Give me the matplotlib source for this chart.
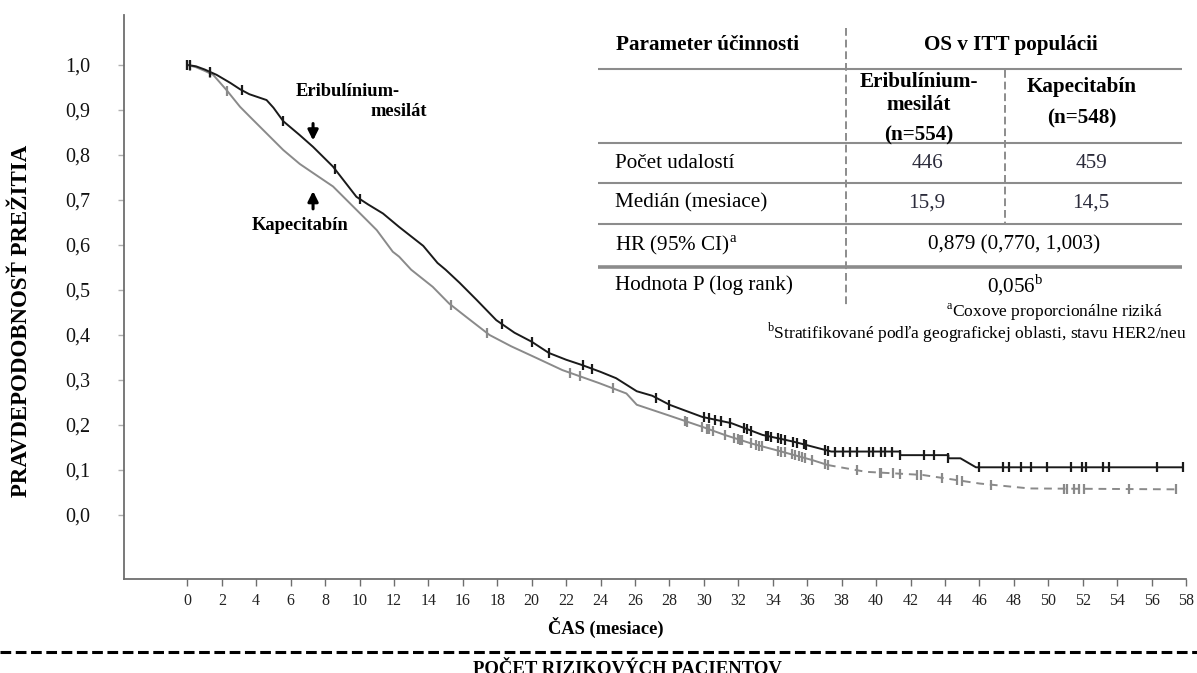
"""Kaplan-Meier OS curves, eribulin vs capecitabine, with the summary table."""

import numpy as np
import matplotlib

matplotlib.use("Agg")
import matplotlib.pyplot as plt

plt.rcParams["font.family"] = ["Liberation Serif", "DejaVu Serif"]
plt.rcParams["mathtext.fontset"] = "custom"
plt.rcParams["mathtext.rm"] = "Liberation Serif"
plt.rcParams["mathtext.bf"] = "Liberation Serif:bold"

# --- curves (months, survival probability) ---
eri_t = [0, 0.5, 1, 1.7, 2.5, 3.06, 3.6, 4.6, 5.0, 5.57, 6.5, 7.3, 8.46, 9.82,
         10.5, 11.36, 12.3, 12.8, 13.7, 14.53, 15.0, 15.81, 16.8, 17.94, 19,
         20, 21, 22, 22.94, 24, 24.9, 26.1, 27.0, 28.0, 28.7, 29.9, 31.6, 33.4,
         35.2, 36.3, 37.4, 41.4, 41.4, 44.2, 44.2, 44.9, 45.8, 57.8]
eri_s = [1.0, 0.997, 0.99, 0.978, 0.96, 0.946, 0.935, 0.922, 0.905, 0.875,
         0.845, 0.818, 0.774, 0.707, 0.69, 0.67, 0.64, 0.625, 0.598, 0.56,
         0.545, 0.516, 0.478, 0.433, 0.405, 0.385, 0.36, 0.345, 0.333, 0.318,
         0.304, 0.275, 0.265, 0.245, 0.235, 0.218, 0.204, 0.178, 0.163, 0.152,
         0.141, 0.141, 0.133, 0.133, 0.126, 0.126, 0.106, 0.106]

cap_t = [0, 0.5, 1, 1.5, 2.28, 3.06, 3.63, 4.6, 5.57, 6.53, 7.3, 8.46, 9.43,
         10.4, 11.0, 11.93, 12.3, 13, 14.25, 15.2, 16.2, 17.55, 18.8, 20.27,
         21.78, 23.92, 25.5, 26.1, 27.9, 29.9, 31.2, 32.75, 34.5, 36.3, 37.2]
cap_s = [1.0, 0.995, 0.987, 0.978, 0.944, 0.907, 0.885, 0.848, 0.811, 0.78,
         0.76, 0.73, 0.693, 0.656, 0.633, 0.585, 0.574, 0.545, 0.507, 0.47,
         0.44, 0.40, 0.375, 0.349, 0.322, 0.293, 0.27, 0.245, 0.222, 0.196,
         0.178, 0.159, 0.141, 0.122, 0.111]
# sparse tail of the capecitabine curve, drawn dashed
cap_tail_t = [37.2, 39.4, 42.7, 46.0, 48.9, 57.5]
cap_tail_s = [0.111, 0.096, 0.089, 0.07, 0.059, 0.057]

# censoring marks (months)
eri_cens = [0, 0.15, 1.3, 3.15, 5.57, 8.56, 10.0, 18.3, 20.0, 21.0, 22.96, 23.5,
            27.2, 28.0, 30.0, 30.3, 30.65, 31.0, 31.5, 32.3, 32.5, 32.75, 33.6,
            33.75, 33.9, 34.3, 34.5, 34.7, 35.2, 35.4, 35.8, 35.95, 37.06, 37.2,
            37.6, 38.05, 38.5, 38.9, 39.6, 39.8, 40.3, 40.5, 40.9, 41.4, 42.8,
            43.35, 44.2, 46.0, 47.4, 47.7, 48.4, 49.0, 49.9, 51.3, 51.95, 52.2,
            53.2, 53.5, 56.3, 57.8]
cap_cens = [0, 0.15, 1.3, 2.3, 15.3, 17.4, 22.2, 22.8, 24.7, 28.9, 29.0, 29.9,
            30.2, 30.3, 30.5, 31.2, 31.75, 32.0, 32.1, 32.2, 32.75, 33.0, 33.2,
            33.4, 34.3, 34.5, 34.7, 35.1, 35.3, 35.5, 35.7, 35.9, 36.3, 37.06,
            37.2, 38.9, 40.2, 40.3, 41.0, 41.4, 42.4, 42.6, 43.8, 44.7, 45.0,
            46.7, 50.9, 51.1, 51.5, 51.8, 52.1, 54.7, 57.4]

x_ticks = list(range(0, 59, 2))
y_ticks = [0.0, 0.1, 0.2, 0.3, 0.4, 0.5, 0.6, 0.7, 0.8, 0.9, 1.0]

# --- table content ---
tbl_head = ["Parameter účinnosti", "OS v ITT populácii"]
tbl_eri_head = ["Eribulínium-", "mesilát", "(n=554)"]
tbl_cap_head = ["Kapecitabín", "(n=548)"]
tbl_rows = ["Počet udalostí", "Medián (mesiace)",
            r"HR (95% CI)$^{\mathrm{a}}$", "Hodnota P (log rank)"]
tbl_eri = ["446", "15,9"]
tbl_cap = ["459", "14,5"]
tbl_hr = "0,879 (0,770, 1,003)"
tbl_p = r"0,056$^{\mathrm{b}}$"
notes = [r"$^{\mathrm{a}}$Coxove proporcionálne riziká",
         r"$^{\mathrm{b}}$Stratifikované podľa geografickej oblasti, stavu HER2/neu"]

BLACK = "#1a1a1a"
GRAY = "#8a8a8a"
AXC = "#6e6e6e"
FS = 13.3      # curve labels, axis titles
TFS = 15.2     # table text

W, H = 1197, 673
fig = plt.figure(figsize=(W / 100, H / 100), dpi=100)
ax = fig.add_axes([124 / W, 1 - 579 / H, (1186 - 124) / W, (579 - 15) / H])

ax.plot(cap_t, cap_s, color=GRAY, lw=1.4)
ax.plot(cap_tail_t, cap_tail_s, color=GRAY, lw=1.4, ls=(0, (4, 3)))
ax.plot(eri_t, eri_s, color=BLACK, lw=1.4)

cap_all_t = cap_t + cap_tail_t[1:]
cap_all_s = cap_s + cap_tail_s[1:]
ax.plot(cap_cens, np.interp(cap_cens, cap_all_t, cap_all_s), ls="none",
        marker="|", ms=7, mew=1.6, color=GRAY)
ax.plot(eri_cens, np.interp(eri_cens, eri_t, eri_s), ls="none",
        marker="|", ms=7, mew=1.6, color=BLACK)

ax.set_xlim(-3.68, 58)
ax.set_ylim(-0.1422, 1.111)
for side in ("top", "right"):
    ax.spines[side].set_visible(False)
for side in ("left", "bottom"):
    ax.spines[side].set_color(AXC)
    ax.spines[side].set_linewidth(1.3)

ax.set_xticks(x_ticks)
ax.set_xticklabels([str(v) for v in x_ticks], fontsize=11.5, color="#222222")
ax.set_yticks(y_ticks)
ax.set_yticklabels([f"{v:.1f}".replace(".", ",") for v in y_ticks],
                   fontsize=14.5, color="#111111")
ax.tick_params(axis="x", length=5, width=1, color=AXC, pad=5)
ax.tick_params(axis="y", length=4, width=1, color="#b0b0b0", pad=20.5)

# curve labels and arrows
ax.text(9.3, 0.941, "Eribulínium-", ha="center", va="center",
        fontsize=FS, fontweight="bold")
ax.text(12.3, 0.896, "mesilát", ha="center", va="center",
        fontsize=FS, fontweight="bold")
ax.text(6.55, 0.644, "Kapecitabín", ha="center", va="center",
        fontsize=FS, fontweight="bold")
arrow = dict(arrowstyle="-|>", color="black", lw=2.2, mutation_scale=15)
ax.annotate("", xy=(7.3, 0.826), xytext=(7.3, 0.876), arrowprops=arrow)
ax.annotate("", xy=(7.3, 0.726), xytext=(7.3, 0.674), arrowprops=arrow)

# overlay in pixel coordinates for table, labels and the separator
ov = fig.add_axes([0, 0, 1, 1])
ov.set_xlim(0, W)
ov.set_ylim(H, 0)
ov.axis("off")

ov.text(22, 321, "PRAVDEPODOBNOSŤ PREŽITIA", rotation=90, ha="center",
        va="center", fontsize=16.5, fontweight="bold")
ov.text(606, 627, "ČAS (mesiace)", ha="center", va="center",
        fontsize=FS, fontweight="bold")
ov.plot([0, W], [652, 652], color="black", lw=2.2, ls=(0, (3.5, 1.5)))
ov.text(627, 661, "POČET RIZIKOVÝCH PACIENTOV", ha="center", va="top",
        fontsize=13.5, fontweight="bold")

# table grid
LINE = "#8c8c8c"
for y, lw in [(69.3, 1.5), (142.7, 1.5), (183.3, 1.5), (224, 1.5), (266.7, 2.6)]:
    ov.plot([598, 1182], [y, y], color=LINE, lw=lw, solid_capstyle="butt")
ov.plot([845.6, 845.6], [28, 306], color=LINE, lw=1.4, ls=(0, (4, 2)))
ov.plot([1005, 1005], [70, 223], color=LINE, lw=1.4, ls=(0, (4, 2)))

ov.text(616, 45, tbl_head[0], ha="left", va="center", fontsize=TFS,
        fontweight="bold")
ov.text(1011, 45, tbl_head[1], ha="center", va="center", fontsize=TFS,
        fontweight="bold")
for line, y in zip(tbl_eri_head, [82, 105, 135]):
    ov.text(919, y, line, ha="center", va="center", fontsize=TFS,
            fontweight="bold")
for line, y in zip(tbl_cap_head, [87, 118.5]):
    ov.text(1082, y, line, ha="center", va="center", fontsize=TFS,
            fontweight="bold")

row_y = [163.3, 203.3, 245, 285]
for label, y in zip(tbl_rows, row_y):
    ov.text(615, y, label, ha="left", va="center", fontsize=TFS)
for val_e, val_c, y in zip(tbl_eri, tbl_cap, row_y[:2]):
    ov.text(927, y, val_e, ha="center", va="center", fontsize=TFS,
            color="#2b2b3b")
    ov.text(1091, y, val_c, ha="center", va="center", fontsize=TFS,
            color="#2b2b3b")
ov.text(1014, row_y[2], tbl_hr, ha="center", va="center", fontsize=TFS)
ov.text(1015, row_y[3], tbl_p, ha="center", va="center", fontsize=TFS)

ov.text(1163, 312, notes[0], ha="right", va="center", fontsize=12.6)
ov.text(1187, 333, notes[1], ha="right", va="center", fontsize=12.6)

fig.savefig("out.png", dpi=100)
